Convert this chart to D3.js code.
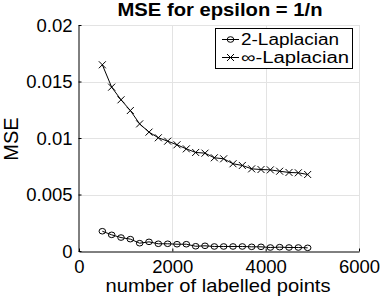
<!DOCTYPE html>
<html><head><meta charset="utf-8">
<script src="https://cdn.jsdelivr.net/npm/d3@7"></script>
<style>
html,body{margin:0;padding:0;background:#fff;}
text{font-family:"Liberation Sans",Arial,Helvetica,sans-serif;fill:#000;}
</style></head>
<body><svg id="c" width="382" height="298"></svg>
<script>
const nLabelled = [500,700,900,1100,1300,1500,1700,1900,2100,2300,2500,2700,2900,3100,3300,3500,3700,3900,4100,4300,4500,4700,4900];
const mse2Laplacian = [0.00175,0.00143,0.00119,0.00105,0.00069,0.00081,0.00064,0.00064,0.00060,0.00060,0.00042,0.00046,0.00040,0.00040,0.00040,0.00040,0.00037,0.00037,0.00031,0.00034,0.00031,0.00031,0.00028];
const mseInfLaplacian = [0.01648,0.01450,0.01338,0.01243,0.01125,0.01052,0.01002,0.00972,0.00940,0.00904,0.00872,0.00866,0.00825,0.00816,0.00772,0.00757,0.00727,0.00721,0.00718,0.00706,0.00695,0.00692,0.00677];
const xTicks = [0,2000,4000,6000];
const xTickLabels = ["0","2000","4000","6000"];
const yTicks = [0,0.005,0.01,0.015,0.02];
const yTickLabels = ["0","0.005","0.01","0.015","0.02"];
const seriesNames = ["2-Laplacian","\u221E-Laplacian"];
const titleText = "MSE for epsilon = 1/n";
const xLabel = "number of labelled points";
const yLabel = "MSE";

const svg = d3.select("#c");
const L=79, R=359, T=25, B=251;
const x = d3.scaleLinear().domain([0,6000]).range([L,R]);
const y = d3.scaleLinear().domain([0,0.02]).range([B,T]);

// grid
const grid = svg.append("g").attr("stroke","#e3e3e3").attr("stroke-width",1);
xTicks.filter(d=>d>0).forEach(d=>grid.append("line").attr("x1",Math.round(x(d))+0.5).attr("x2",Math.round(x(d))+0.5).attr("y1",T).attr("y2",B));
yTicks.filter(d=>d>0).forEach(d=>grid.append("line").attr("y1",Math.round(y(d))+0.5).attr("y2",Math.round(y(d))+0.5).attr("x1",L).attr("x2",R));

// axes
const xAxis = d3.axisBottom(x).tickValues(xTicks).tickFormat((d,i)=>xTickLabels[i]).tickSizeInner(-3).tickSizeOuter(0).tickPadding(8);
const gx = svg.append("g").attr("transform",`translate(0,${B+0.5})`).call(xAxis);
const yAxis = d3.axisLeft(y).tickValues(yTicks).tickFormat((d,i)=>yTickLabels[i]).tickSizeInner(-3).tickSizeOuter(0).tickPadding(6);
const gy = svg.append("g").attr("transform",`translate(${L-0.5},0)`).call(yAxis);
[gx,gy].forEach(g=>{
  g.select(".domain").attr("stroke","#000");
  g.selectAll(".tick line").attr("stroke","#000");
  g.selectAll(".tick text").attr("font-size",18.5).attr("font-family","Liberation Sans, Arial, sans-serif").attr("fill","#000");
});
gy.selectAll(".tick text").attr("dy","0.35em");

// lines
const line = d3.line().x((d,i)=>x(nLabelled[i])).y(d=>y(d));
svg.append("path").datum(mse2Laplacian).attr("d",line).attr("fill","none").attr("stroke","#000").attr("stroke-width",1);
svg.append("path").datum(mseInfLaplacian).attr("d",line).attr("fill","none").attr("stroke","#000").attr("stroke-width",1);

function circleMark(g,cx,cy){g.append("ellipse").attr("cx",cx).attr("cy",cy).attr("rx",3.3).attr("ry",2.8).attr("fill","none").attr("stroke","#000").attr("stroke-width",1);}
function crossMark(g,cx,cy){const s=3.5;g.append("path").attr("d",`M${cx-s},${cy-s}L${cx+s},${cy+s}M${cx-s},${cy+s}L${cx+s},${cy-s}`).attr("stroke","#000").attr("stroke-width",1).attr("fill","none");}
const m = svg.append("g");
mse2Laplacian.forEach((d,i)=>circleMark(m,x(nLabelled[i]),y(d)));
mseInfLaplacian.forEach((d,i)=>crossMark(m,x(nLabelled[i]),y(d)));

// title & labels
svg.append("text").attr("x",220).attr("y",16).attr("text-anchor","middle").attr("font-weight","bold").attr("font-size",19).attr("textLength",205).attr("lengthAdjust","spacingAndGlyphs").text(titleText);
svg.append("text").attr("x",218).attr("y",292).attr("text-anchor","middle").attr("font-size",19).attr("textLength",225).attr("lengthAdjust","spacingAndGlyphs").text(xLabel);
svg.append("text").attr("transform","translate(18,139) rotate(-90)").attr("text-anchor","middle").attr("font-size",20).text(yLabel);

// legend
const lg = svg.append("g");
lg.append("rect").attr("x",215.5).attr("y",28.5).attr("width",137).attr("height",40).attr("fill","#fff").attr("stroke","#000").attr("stroke-width",1);
const rows=[39.5,57.5];
rows.forEach((ry,i)=>{
  lg.append("line").attr("x1",222).attr("x2",239).attr("y1",ry).attr("y2",ry).attr("stroke","#000");
  if(i===0) circleMark(lg,230.5,ry); else crossMark(lg,230.5,ry);
  lg.append("text").attr("x",241).attr("y",ry+5.5).attr("font-size",16).attr("textLength",i===0?98:108).attr("lengthAdjust","spacingAndGlyphs").text(seriesNames[i]);
});
</script></body></html>
